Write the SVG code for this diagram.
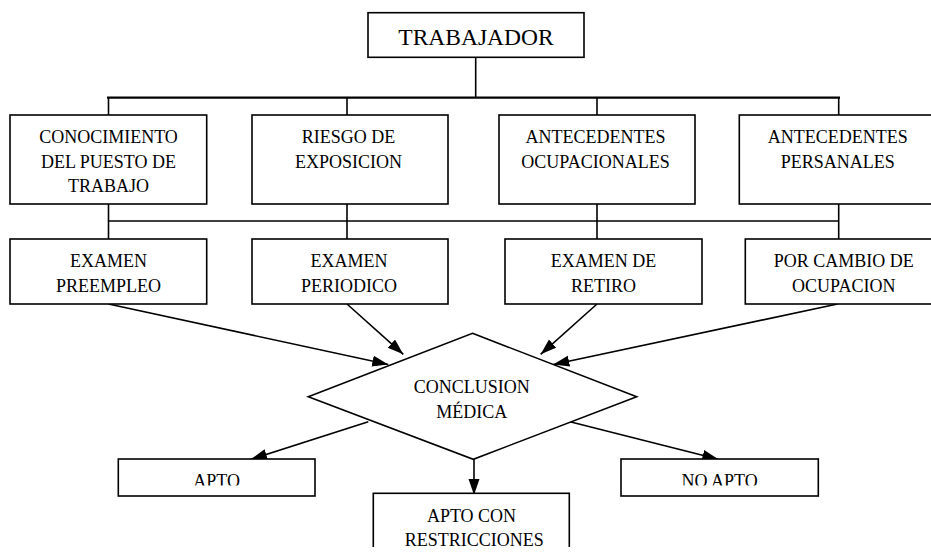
<svg xmlns="http://www.w3.org/2000/svg" width="931" height="557" viewBox="0 0 931 557">
<style>
.box{fill:#fff;stroke:#000;stroke-width:1.6}
.ln{fill:none;stroke:#000;stroke-width:1.6}
.t{font-family:"Liberation Serif","Times New Roman",serif;font-size:18px;fill:#000;text-anchor:middle}
</style>
<defs>
<marker id="ah" markerUnits="userSpaceOnUse" markerWidth="16" markerHeight="12" refX="16" refY="5.5" orient="auto">
<path d="M0,0 L16,5.5 L0,11 z" fill="#000"/>
</marker>
<clipPath id="clipShort"><rect x="0" y="0" width="931" height="485.5"/></clipPath>
<clipPath id="clipBottom"><rect x="0" y="0" width="931" height="547"/></clipPath>
</defs>
<rect width="931" height="557" fill="#fff"/>

<g id="connectors">
<line class="ln" x1="475.7" y1="57" x2="475.7" y2="97.7"/>
<line x1="107" y1="97.7" x2="840" y2="97.7" stroke="#000" stroke-width="2.3"/>
<line class="ln" x1="108.5" y1="97.7" x2="108.5" y2="115"/>
<line class="ln" x1="347" y1="97.7" x2="347" y2="115"/>
<line class="ln" x1="597" y1="97.7" x2="597" y2="115"/>
<line class="ln" x1="838.7" y1="97.7" x2="838.7" y2="115"/>
<line class="ln" x1="108.5" y1="204" x2="108.5" y2="239"/>
<line class="ln" x1="347" y1="204" x2="347" y2="239"/>
<line class="ln" x1="597" y1="204" x2="597" y2="239"/>
<line class="ln" x1="838.7" y1="204" x2="838.7" y2="239"/>
<line class="ln" x1="108.5" y1="221" x2="838.7" y2="221"/>
<line class="ln" x1="108.5" y1="304" x2="388.3" y2="364.5" marker-end="url(#ah)"/>
<line class="ln" x1="347" y1="304" x2="403.3" y2="354.3" marker-end="url(#ah)"/>
<line class="ln" x1="597" y1="304" x2="540.7" y2="354.3" marker-end="url(#ah)"/>
<line class="ln" x1="837.5" y1="304" x2="553.3" y2="364.5" marker-end="url(#ah)"/>
<line class="ln" x1="368.3" y1="421.7" x2="251" y2="459.3" marker-end="url(#ah)"/>
<line class="ln" x1="474" y1="459.3" x2="474" y2="495" marker-end="url(#ah)"/>
<line class="ln" x1="570" y1="421.7" x2="718.3" y2="459.3" marker-end="url(#ah)"/>
</g>

<g id="trabajador">
<rect class="box" x="368" y="12.7" width="216" height="44.6"/>
<text class="t" x="476" y="45" style="font-size:23.5px">TRABAJADOR</text>
</g>

<g id="conocimiento">
<rect class="box" x="10" y="115" width="196.7" height="89"/>
<text class="t" x="108.5" y="143.3">CONOCIMIENTO</text>
<text class="t" x="108.5" y="167.6">DEL PUESTO DE</text>
<text class="t" x="108.5" y="192.2">TRABAJO</text>
</g>

<g id="riesgo">
<rect class="box" x="252" y="115" width="196" height="89"/>
<text class="t" x="348.5" y="143.3">RIESGO DE</text>
<text class="t" x="348.5" y="167.6">EXPOSICION</text>
</g>

<g id="ant-ocupacionales">
<rect class="box" x="499" y="115" width="196" height="89"/>
<text class="t" x="595.5" y="143.3">ANTECEDENTES</text>
<text class="t" x="595.5" y="167.6">OCUPACIONALES</text>
</g>

<g id="ant-personales">
<rect class="box" x="739.3" y="115" width="198" height="89"/>
<text class="t" x="837.7" y="143.3">ANTECEDENTES</text>
<text class="t" x="837.7" y="167.6">PERSANALES</text>
</g>

<g id="preempleo">
<rect class="box" x="10" y="239" width="196.7" height="65"/>
<text class="t" x="108.5" y="266.7">EXAMEN</text>
<text class="t" x="108.5" y="292.3">PREEMPLEO</text>
</g>

<g id="periodico">
<rect class="box" x="252" y="239" width="196" height="65"/>
<text class="t" x="349" y="266.7">EXAMEN</text>
<text class="t" x="349" y="292.3">PERIODICO</text>
</g>

<g id="retiro">
<rect class="box" x="505" y="239" width="197" height="65"/>
<text class="t" x="603.6" y="266.7">EXAMEN DE</text>
<text class="t" x="603.6" y="292.3">RETIRO</text>
</g>

<g id="cambio">
<rect class="box" x="745.3" y="239" width="198" height="65"/>
<text class="t" x="843.8" y="266.7">POR CAMBIO DE</text>
<text class="t" x="843.8" y="292.3">OCUPACION</text>
</g>

<g id="conclusion">
<polygon class="box" points="472.5,333.3 636.7,396.7 473.3,459.3 308.3,396.7"/>
<text class="t" x="471.7" y="392.7">CONCLUSION</text>
<text class="t" x="471.7" y="417.7">MÉDICA</text>
</g>

<g id="apto">
<rect class="box" x="118.3" y="459" width="196.7" height="37"/>
<text class="t" x="216.7" y="487.2" clip-path="url(#clipShort)">APTO</text>
</g>

<g id="no-apto">
<rect class="box" x="621" y="459" width="197.3" height="37"/>
<text class="t" x="719.7" y="487.2" clip-path="url(#clipShort)">NO APTO</text>
</g>

<g id="apto-restricciones" clip-path="url(#clipBottom)">
<rect class="box" x="373.3" y="493.3" width="196" height="80"/>
<text class="t" x="471.5" y="521.7">APTO CON</text>
<text class="t" x="474.2" y="546">RESTRICCIONES</text>
</g>
</svg>
